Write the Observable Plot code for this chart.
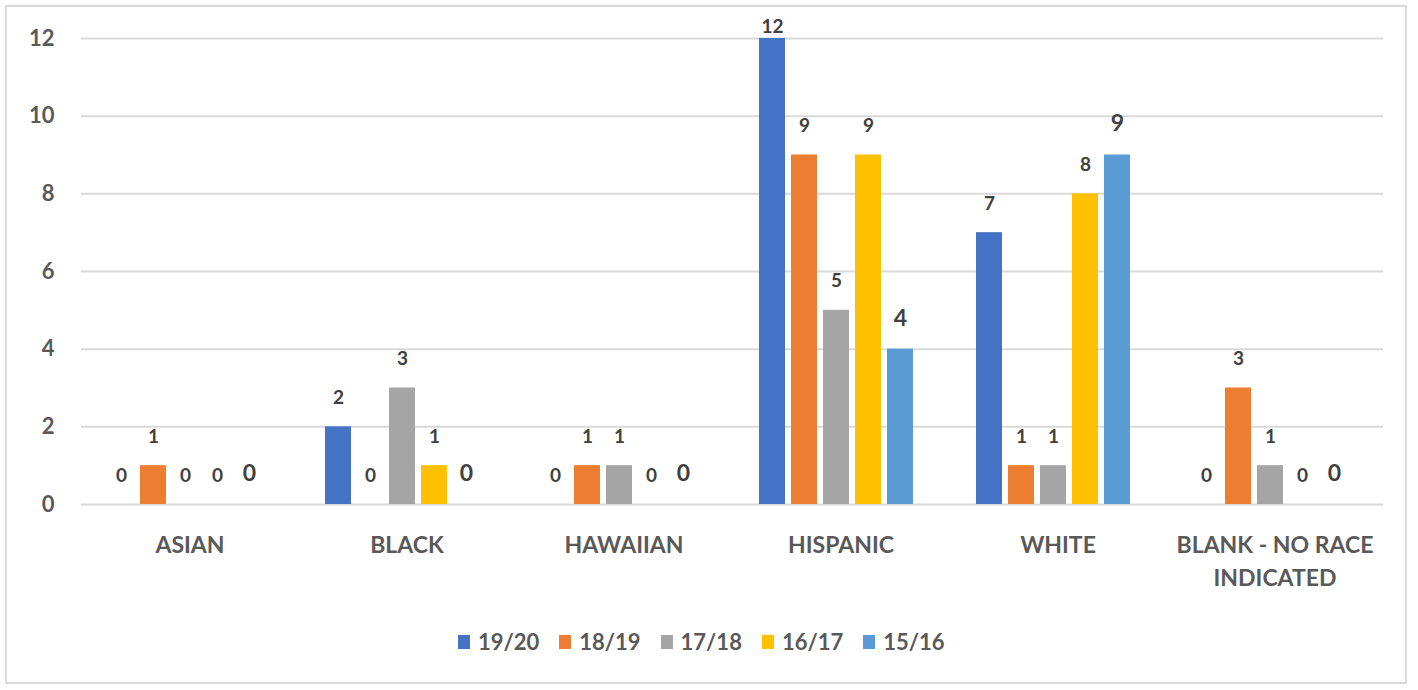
<!DOCTYPE html>
<html>
<head>
<meta charset="utf-8">
<script src="https://cdn.jsdelivr.net/npm/d3@7"></script>
<script src="https://cdn.jsdelivr.net/npm/@observablehq/plot@0.6"></script>
<style>
  html, body { margin: 0; padding: 0; background: #fff; }
  #wrap { position: relative; width: 1418px; height: 690px; overflow: hidden; background: #fff; font-family: Lato, "Open Sans", sans-serif; }
  #frame { position: absolute; left: 5px; top: 5px; width: 1402px; height: 679px; border: 2px solid #d9d9d9; box-sizing: border-box; }
  #chart { position: absolute; left: 0; top: 0; }
  #legend { position: absolute; left: 458px; top: 628px; display: flex; align-items: center; font-size: 22px; color: #595959; font-weight: 700; }
  .item { display: flex; align-items: center; margin-right: 20px; }
  .sw { width: 12px; height: 14px; margin-right: 8px; }
</style>
</head>
<body>
<div id="wrap">
  <div id="frame"></div>
  <div id="chart"></div>
  <div id="legend"></div>
</div>
<script>
const categories = ["ASIAN", "BLACK", "HAWAIIAN", "HISPANIC", "WHITE", "BLANK - NO RACE\nINDICATED"];
const series = ["19/20", "18/19", "17/18", "16/17", "15/16"];
const colors = ["#4472C4", "#ED7D31", "#A5A5A5", "#FFC000", "#5B9BD5"];
const v1920 = [0, 2, 0, 12, 7, 0];
const v1819 = [1, 0, 1, 9, 1, 3];
const v1718 = [0, 3, 1, 5, 1, 1];
const v1617 = [0, 1, 0, 9, 8, 0];
const v1516 = [0, 0, 0, 4, 9, 0];
const yTicks = [0, 2, 4, 6, 8, 10, 12];

const seriesValues = [v1920, v1819, v1718, v1617, v1516];
const data = [];
categories.forEach((c, i) => {
  series.forEach((s, j) => data.push({cat: c, series: s, value: seriesValues[j][i]}));
});
const yMax = d3.max(yTicks);
const normalLabels = data.filter(d => d.series !== "15/16" && d.value < yMax);
const topLabels = data.filter(d => d.value >= yMax);
const lastLabels = data.filter(d => d.series === "15/16" && d.value < yMax);

const chart = Plot.plot({
  width: 1418,
  height: 610,
  marginLeft: 80,
  marginRight: 35,
  marginTop: 38,
  marginBottom: 106,
  style: {fontFamily: "Lato, 'Open Sans', sans-serif", color: "#595959", background: "transparent"},
  fx: {domain: categories, padding: 0, label: null, axis: null},
  x: {domain: series, paddingInner: 0.2, paddingOuter: 0.9, align: 0.43, axis: null},
  y: {domain: [0, yMax], label: null, axis: null},
  color: {domain: series, range: colors},
  marks: [
    Plot.gridY(yTicks, {stroke: "#d9d9d9", strokeOpacity: 1, strokeWidth: 2}),
    Plot.axisY(yTicks, {tickSize: 0, tickPadding: 27, label: null, fontSize: 22, fontWeight: 700, fill: "#595959"}),
    Plot.axisFx({anchor: "bottom", tickSize: 0, tickPadding: 26, lineAnchor: "top", lineHeight: 1.4, fontSize: 23, fontWeight: 700, fill: "#595959", label: null}),
    Plot.barY(data, {fx: "cat", x: "series", y: "value", fill: "series"}),
    Plot.text(normalLabels, {fx: "cat", x: "series", y: "value", text: d => String(d.value), dy: -29, fontSize: 19, fontWeight: 700, fill: "#404040"}),
    Plot.text(topLabels, {fx: "cat", x: "series", y: "value", text: d => String(d.value), dy: -12, fontSize: 19, fontWeight: 700, fill: "#404040"}),
    Plot.text(lastLabels, {fx: "cat", x: "series", y: "value", text: d => String(d.value), dy: -31, fontSize: 23, fontWeight: 700, fill: "#404040"})
  ]
});
document.getElementById("chart").appendChild(chart);

const legend = document.getElementById("legend");
series.forEach((s, j) => {
  const it = document.createElement("div");
  it.className = "item";
  const sw = document.createElement("span");
  sw.className = "sw";
  sw.style.background = colors[j];
  const t = document.createElement("span");
  t.textContent = s;
  it.appendChild(sw);
  it.appendChild(t);
  legend.appendChild(it);
});
</script>
</body>
</html>
